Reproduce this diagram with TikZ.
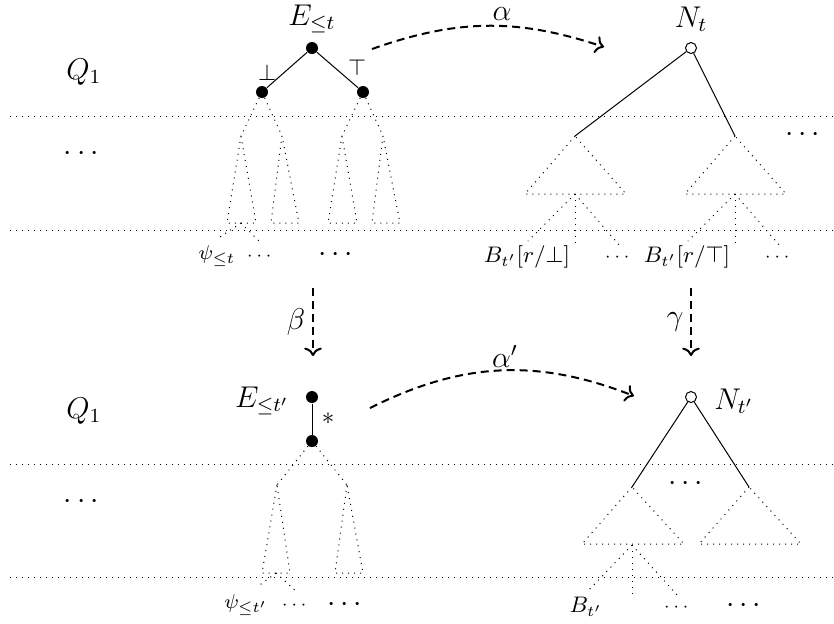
\documentclass[tikz,border=0pt]{standalone}
\usepackage{amsmath,amssymb}
\usepackage{tikz}
\usetikzlibrary{arrows.meta,positioning,calc}

\tikzset{
  every picture/.append style={line width=0.4pt},
}

\begin{document}
\begin{tikzpicture}[
  x=0.4pt, y=-0.4pt,
  every node/.append style={font=\large},
  fnode/.style ={circle, fill=black, inner sep=0pt, minimum size=4.8pt},
  onode/.style ={circle, draw, fill=white, inner sep=0pt, minimum size=4.4pt},
  edge/.style  ={line width=0.4pt},
  sub/.style   ={dotted, line width=0.4pt},
  hline/.style ={dotted, line width=0.4pt},
  map/.style   ={->, thick, dash pattern=on 3.2pt off 2pt},
  lbl/.style   ={font=\small, inner sep=1pt},
  plbl/.style  ={font=\footnotesize, inner sep=1pt},
  tiny/.style  ={font=\scriptsize, inner sep=1pt},
  dots/.style  ={font=\large, inner sep=1pt}
]
\useasboundingbox (0,0) rectangle (834,623);

% level separators
\foreach \y in {116,230,464,577}{
  \draw[hline] (10,\y) -- (834,\y);
}

% quantifier blocks
\node (q1) at (84,72) {$Q_1$};
\node[dots] (qd1) at (84,154) {$\cdots$};
\node (q2) at (84,411) {$Q_1$};
\node[dots] (qd2) at (84,502) {$\cdots$};

% top left: expansion tree E_{<=t}
\node[fnode] (e0) at (312,48) {};
\node[fnode] (e1) at (262,92) {};
\node[fnode] (e2) at (363,92) {};
\node[inner sep=0pt] (eT) at (312,19) {$E_{\leq t}$};
\draw[edge] (e0) -- (e1);
\draw[edge] (e0) -- (e2);
\node[font=\small, inner sep=0pt] (bot) at (267,73) {$\bot$};
\node[font=\small, inner sep=0pt] (top) at (357,68) {$\top$};

\foreach \c in {e1,e2}{
  \coordinate (\c-l) at ($(\c)+(-21,44)$);
  \coordinate (\c-r) at ($(\c)+(20,44)$);
  \draw[sub] (\c) -- (\c-l);
  \draw[sub] (\c) -- (\c-r);
  \draw[sub] (\c-l) -- ($(\c)+(-35,131)$) -- ($(\c)+(-6,131)$) -- cycle;
  \draw[sub] (\c-r) -- ($(\c)+(9,131)$) -- ($(\c)+(37,131)$) -- cycle;
}

\coordinate (psi1) at (241,223);
\coordinate (psi1a) at (220,237);
\coordinate (psi1b) at (260,242);
\draw[sub] (psi1) -- (psi1a);
\draw[sub] (psi1) -- (psi1b);
\node[plbl] (psiT) at (217,256) {$\psi_{\leq t}$};
\node[tiny] (psiTd) at (261,256) {$\cdots$};
\node[dots] (eTd) at (338,255) {$\cdots$};

% top right: tree N_t
\node[onode] (n0) at (691,48) {};
\node[inner sep=0pt] (nT) at (691,19) {$N_t$};
\coordinate (n1) at (575,136);
\coordinate (n2) at (735,136);
\draw[edge] (n0) -- (n1);
\draw[edge] (n0) -- (n2);
\node[dots] (nTd) at (805,135) {$\cdots$};

\foreach \c in {n1,n2}{
  \draw[sub] (\c) -- ($(\c)+(-50,58)$) -- ($(\c)+(51,58)$) -- cycle;
  \coordinate (\c-m) at ($(\c)+(0,58)$);
  \draw[sub] (\c-m) -- ($(\c-m)+(-47,47)$);
  \draw[sub] (\c-m) -- ($(\c-m)+(0,50)$);
  \draw[sub] (\c-m) -- ($(\c-m)+(45,52)$);
}
\node[lbl] (bf) at (527,257) {$B_{t'}[r/\bot]$};
\node[tiny] (bfd) at (619,257) {$\cdots$};
\node[lbl] (bt) at (687,257) {$B_{t'}[r/\top]$};
\node[tiny] (btd) at (779,257) {$\cdots$};

% bottom left: expansion tree E_{<=t'}
\node[fnode] (f0) at (312,397) {};
\node[fnode] (f1) at (312,441) {};
\draw[edge] (f0) -- (f1);
\node[inner sep=0pt] (fT) at (262,401) {$E_{\leq t'}$};
\node[font=\normalsize, inner sep=0pt] (ast) at (328,419) {$*$};

\coordinate (f1-l) at ($(f1)+(-35,44)$);
\coordinate (f1-r) at ($(f1)+(35,44)$);
\draw[sub] (f1) -- (f1-l);
\draw[sub] (f1) -- (f1-r);
\draw[sub] (f1-l) -- ($(f1)+(-50,132)$) -- ($(f1)+(-22,132)$) -- cycle;
\draw[sub] (f1-r) -- ($(f1)+(23,132)$) -- ($(f1)+(51,132)$) -- cycle;

\coordinate (psi2) at (276,573);
\coordinate (psi2a) at (257,587);
\coordinate (psi2b) at (297,592);
\draw[sub] (psi2) -- (psi2a);
\draw[sub] (psi2) -- (psi2b);
\node[plbl] (psiB) at (246,605) {$\psi_{\leq t'}$};
\node[tiny] (psiBd) at (296,605) {$\cdots$};
\node[dots] (fTd) at (347,605) {$\cdots$};

% bottom right: tree N_{t'}
\node[onode] (m0) at (691,397) {};
\node[inner sep=0pt] (mT) at (734,401) {$N_{t'}$};
\coordinate (m1) at (632,487);
\coordinate (m2) at (749,487);
\draw[edge] (m0) -- (m1);
\draw[edge] (m0) -- (m2);
\node[dots] (mTd) at (688,484) {$\cdots$};

\foreach \c in {m1,m2}{
  \draw[sub] (\c) -- ($(\c)+(-50,57)$) -- ($(\c)+(52,57)$) -- cycle;
}
\coordinate (m1-m) at ($(m1)+(0,58)$);
\draw[sub] (m1-m) -- ($(m1-m)+(-45,47)$);
\draw[sub] (m1-m) -- ($(m1-m)+(0,50)$);
\draw[sub] (m1-m) -- ($(m1-m)+(46,51)$);
\node[lbl] (bb) at (586,607) {$B_{t'}$};
\node[tiny] (bbd) at (678,607) {$\cdots$};
\node[dots] (mBd) at (746,606) {$\cdots$};

% mappings between the trees
\coordinate (a0) at (372,49);
\coordinate (a1) at (604,47);
\draw[map] (a0) to[bend left=19] (a1);
\node[inner sep=0pt] (alpha) at (502,14) {$\alpha$};
\coordinate (c0) at (370,408);
\coordinate (c1) at (634,396);
\draw[map] (c0) to[bend left=24] (c1);
\node[inner sep=0pt] (alpha') at (505,356) {$\alpha'$};
\coordinate (b0) at (313,288);
\coordinate (b1) at (313,356);
\draw[map] (b0) -- (b1);
\node[inner sep=0pt] (beta) at (296,322) {$\beta$};
\coordinate (g0) at (691,288);
\coordinate (g1) at (691,356);
\draw[map] (g0) -- (g1);
\node[inner sep=0pt] (gamma) at (675,322) {$\gamma$};

\end{tikzpicture}
\end{document}
